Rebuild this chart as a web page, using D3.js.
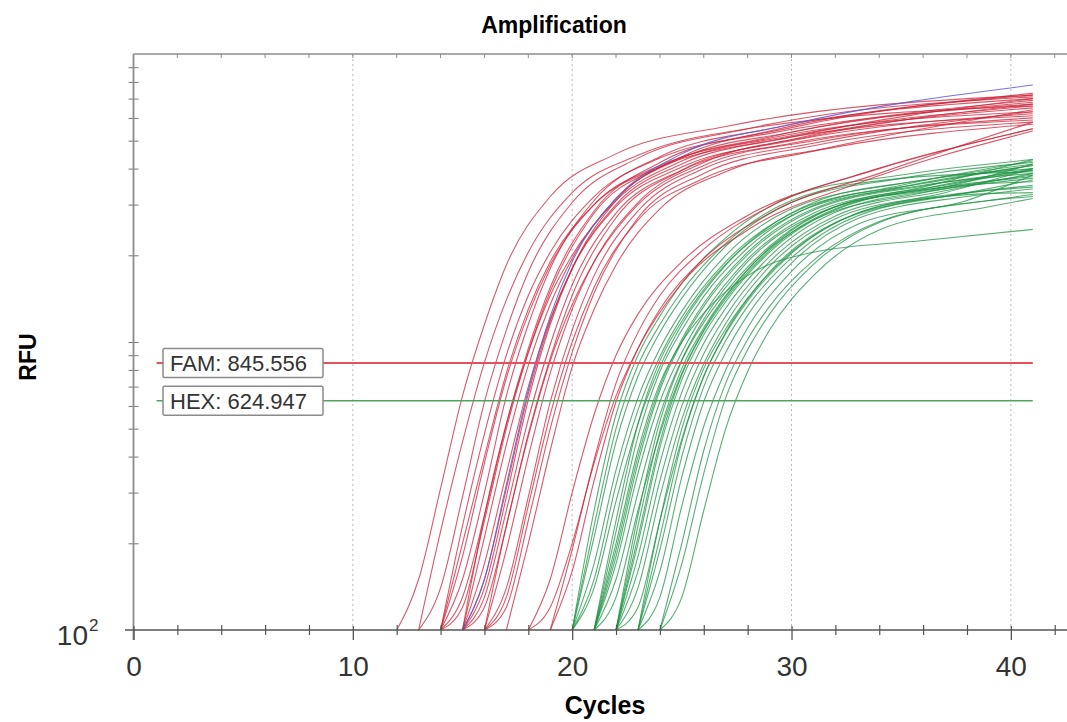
<!DOCTYPE html>
<html>
<head>
<meta charset="utf-8">
<script src="https://cdn.jsdelivr.net/npm/d3@7"></script>
<style>
  body { margin: 0; background: #fff; }
  text { font-family: "Liberation Sans", Arial, sans-serif; }
</style>
</head>
<body>
<div id="chart"></div>
<script>
// qPCR amplification plot, FAM (red) and HEX (green) wells, log RFU vs cycle

// cycle offsets from the start cycle at which each curve's RFU was read
var keyOffsets = [0, 1, 2, 3, 4, 5, 7, 10, 15];
var lastCycle = 41;

// FAM wells: start cycle, RFU at keyOffsets, RFU at cycle 41
var famStart = [12, 13, 13, 14, 14, 14, 14, 14, 14, 15, 15, 15, 15, 15, 15, 15, 16, 16, 16, 16, 17, 16, 18, 18, 19, 19];
var famRfu = [
  [100, 150, 310, 650, 1150, 1850, 3200, 4500, 5600],
  [100, 140, 290, 620, 1100, 1750, 3050, 4350, 5500],
  [100, 220, 450, 850, 1400, 2050, 3300, 4450, 5500],
  [100, 130, 250, 520, 950, 1550, 2850, 4200, 5400],
  [100, 150, 300, 650, 1150, 1800, 3100, 4400, 5500],
  [100, 230, 480, 900, 1450, 2050, 3200, 4350, 5300],
  [100, 180, 380, 750, 1250, 1850, 3000, 4100, 5100],
  [100, 120, 240, 500, 920, 1500, 2800, 4050, 5150],
  [100, 200, 400, 780, 1300, 1900, 3000, 4050, 5000],
  [100, 140, 290, 630, 1150, 1800, 3100, 4400, 5550],
  [100, 210, 440, 830, 1350, 1950, 3150, 4350, 5350],
  [100, 120, 230, 480, 880, 1450, 2700, 3950, 5050],
  [100, 170, 350, 700, 1200, 1800, 2950, 4050, 5000],
  [100, 250, 520, 920, 1450, 2000, 3100, 4250, 5200],
  [100, 150, 310, 660, 1180, 1800, 3000, 4150, 5150],
  [100, 130, 260, 540, 980, 1580, 2800, 3950, 4900],
  [100, 190, 400, 780, 1300, 1900, 3050, 4200, 5200],
  [100, 140, 290, 620, 1100, 1700, 2850, 4000, 4900],
  [100, 230, 470, 860, 1350, 1900, 3000, 4100, 5000],
  [100, 120, 240, 500, 920, 1480, 2700, 3850, 4800],
  [100, 200, 420, 820, 1300, 1850, 2900, 3900, 4750],
  [100, 130, 270, 560, 1000, 1550, 2650, 3700, 4600],
  [100, 150, 300, 560, 900, 1250, 1900, 2750, 3800],
  [100, 120, 200, 380, 650, 950, 1600, 2450, 3550],
  [100, 160, 330, 620, 950, 1300, 1950, 2800, 3850],
  [100, 190, 390, 720, 1080, 1450, 2100, 2950, 4000]
];
var famEnd = [7200, 7100, 6600, 7200, 7000, 6700, 6300, 6900, 6100, 7300, 6800, 6500, 6200, 6600, 7000, 5900, 6700, 6300, 6000, 5800, 5700, 6400, 5500, 5400, 5800, 5500];

// the single blue trace inside the FAM bundle
var blueStart = [15];
var blueRfu = [[100, 150, 320, 680, 1230, 1900, 3150, 4500, 5700]];
var blueEnd = [7800];

// HEX wells
var hexStart = [20, 20, 20, 20, 20, 20, 21, 21, 21, 21, 21, 21, 21, 21, 22, 22, 22, 22, 22, 22, 22, 22, 23, 23, 23, 23, 23, 24, 24, 24];
var hexRfu = [
  [100, 260, 560, 900, 1230, 1600, 2300, 3200, 3800],
  [100, 210, 450, 760, 1080, 1420, 2150, 3050, 3700],
  [100, 170, 360, 640, 950, 1280, 2000, 2900, 3550],
  [100, 140, 280, 520, 820, 1150, 1850, 2750, 3450],
  [100, 230, 500, 830, 1150, 1500, 2200, 3100, 3700],
  [100, 150, 320, 580, 890, 1220, 1900, 2800, 3500],
  [100, 240, 520, 860, 1180, 1520, 2200, 3050, 3650],
  [100, 190, 400, 700, 1020, 1360, 2050, 2900, 3500],
  [100, 150, 300, 560, 870, 1200, 1900, 2750, 3400],
  [100, 220, 470, 790, 1100, 1440, 2120, 2980, 3550],
  [100, 130, 260, 480, 780, 1100, 1780, 2650, 3300],
  [100, 200, 420, 720, 1000, 1260, 1700, 2050, 2250],
  [100, 170, 350, 620, 920, 1250, 1940, 2800, 3450],
  [100, 180, 380, 680, 1000, 1330, 2010, 2870, 3480],
  [100, 230, 490, 810, 1120, 1450, 2120, 2950, 3500],
  [100, 180, 380, 670, 990, 1310, 1980, 2820, 3400],
  [100, 140, 290, 540, 840, 1160, 1830, 2680, 3300],
  [100, 200, 430, 740, 1060, 1380, 2050, 2880, 3450],
  [100, 160, 330, 600, 910, 1230, 1900, 2740, 3350],
  [100, 250, 530, 860, 1170, 1490, 2150, 2950, 3450],
  [100, 120, 240, 460, 760, 1080, 1750, 2600, 3200],
  [100, 210, 450, 770, 1090, 1410, 2080, 2900, 3460],
  [100, 210, 450, 760, 1070, 1390, 2030, 2800, 3300],
  [100, 160, 340, 620, 920, 1240, 1880, 2680, 3200],
  [100, 130, 270, 510, 800, 1120, 1760, 2560, 3100],
  [100, 190, 400, 700, 1010, 1330, 1960, 2740, 3250],
  [100, 240, 500, 810, 1110, 1420, 2050, 2800, 3300],
  [100, 170, 350, 640, 940, 1250, 1860, 2600, 3100],
  [100, 130, 260, 500, 790, 1100, 1700, 2450, 2950],
  [100, 200, 420, 720, 1020, 1330, 1920, 2620, 3100]
];
var hexEnd = [4300, 4200, 4000, 4100, 3900, 4250, 4150, 3850, 4000, 4100, 3800, 2460, 4300, 3950, 3950, 3700, 4000, 3600, 3850, 4150, 3500, 3750, 3650, 3400, 3800, 3300, 3450, 3200, 3150, 3250];

var thresholdNames = ["FAM", "HEX"];
var thresholdValues = [845.556, 624.947];
var thresholdColors = ["#e4505c", "#4fa35f"];

var xMajorTicks = [0, 10, 20, 30, 40];
var xMinorTicks = [2, 4, 6, 8, 12, 14, 16, 18, 22, 24, 26, 28, 32, 34, 36, 38, 42];
var yMinorTicks = [200, 300, 400, 500, 600, 700, 800, 900, 1000, 2000, 3000, 4000, 5000, 6000, 7000, 8000, 9000];

var W = 1067, H = 722;

var svg = d3.select("#chart").append("svg")
    .attr("width", W)
    .attr("height", H);

var x = d3.scaleLinear().domain([0, 42.56]).range([133.5, 1067]);
var y = d3.scaleLog().domain([100, 10000]).range([630, 54]).clamp(true);

// build the curve points from start cycle + offsets
function curvePoints(start, rfu, end) {
  var pts = keyOffsets.map(function(o, i) { return [start + o, rfu[i]]; });
  pts.push([lastCycle, end]);
  return pts;
}

var line = d3.line()
    .x(function(d) { return x(d[0]); })
    .y(function(d) { return y(d[1]); })
    .curve(d3.curveMonotoneX);

// dotted grid at major cycles
svg.append("g")
  .selectAll("line")
  .data(xMajorTicks.filter(function(d) { return d > 0; }))
  .enter().append("line")
    .attr("x1", function(d) { return x(d); })
    .attr("x2", function(d) { return x(d); })
    .attr("y1", 54)
    .attr("y2", 630)
    .style("stroke", "#b8b8b8")
    .style("stroke-width", 1)
    .style("stroke-dasharray", "2,3");

// top border with small ticks
svg.append("line")
  .attr("x1", x(0)).attr("x2", W)
  .attr("y1", 54).attr("y2", 54)
  .style("stroke", "#8c8c8c").style("stroke-width", 1.5);

svg.append("g")
  .selectAll("line")
  .data(xMinorTicks.concat(xMajorTicks))
  .enter().append("line")
    .attr("x1", function(d) { return x(d); })
    .attr("x2", function(d) { return x(d); })
    .attr("y1", 54).attr("y2", 58)
    .style("stroke", "#8c8c8c").style("stroke-width", 1);

// curves
var curves = svg.append("g");

curves.selectAll(".hex")
  .data(hexStart.map(function(s, i) { return curvePoints(s, hexRfu[i], hexEnd[i]); }))
  .enter().append("path")
    .attr("class", "hex")
    .attr("d", line)
    .style("fill", "none")
    .style("stroke", "#1f9444")
    .style("stroke-opacity", 0.75)
    .style("stroke-width", 1.1);

curves.selectAll(".fam")
  .data(famStart.map(function(s, i) { return curvePoints(s, famRfu[i], famEnd[i]); }))
  .enter().append("path")
    .attr("class", "fam")
    .attr("d", line)
    .style("fill", "none")
    .style("stroke", "#cc2236")
    .style("stroke-opacity", 0.75)
    .style("stroke-width", 1.1);

curves.selectAll(".blue")
  .data(blueStart.map(function(s, i) { return curvePoints(s, blueRfu[i], blueEnd[i]); }))
  .enter().append("path")
    .attr("class", "blue")
    .attr("d", line)
    .style("fill", "none")
    .style("stroke", "#5a5ad8")
    .style("stroke-opacity", 0.85)
    .style("stroke-width", 1.1);

// threshold lines with labels
var thr = svg.append("g")
  .selectAll("g")
  .data(thresholdValues)
  .enter().append("g");

thr.append("line")
  .attr("x1", x(1.05))
  .attr("x2", x(lastCycle))
  .attr("y1", function(d) { return y(d); })
  .attr("y2", function(d) { return y(d); })
  .style("stroke", function(d, i) { return thresholdColors[i]; })
  .style("stroke-width", function(d, i) { return i === 0 ? 2.2 : 1.6; });

thr.append("rect")
  .attr("x", 163)
  .attr("y", function(d) { return y(d) - 14.5; })
  .attr("width", 160)
  .attr("height", 29)
  .attr("rx", 1.5)
  .style("fill", "#fff")
  .style("stroke", "#8a8a8a")
  .style("stroke-width", 1.5);

thr.append("text")
  .attr("x", 170)
  .attr("y", function(d) { return y(d) + 8; })
  .style("font-size", "22px")
  .style("fill", "#333")
  .text(function(d, i) { return thresholdNames[i] + ": " + d3.format(".3f")(d); });

// left axis
var yAxis = svg.append("g")
  .attr("transform", "translate(" + x(0) + ",0)")
  .call(d3.axisLeft(y).tickValues(yMinorTicks).tickFormat("").tickSize(5));
yAxis.select(".domain").remove();
yAxis.selectAll(".tick line")
  .attr("x1", -5).attr("x2", 5)
  .style("stroke", "#777");

svg.append("line")
  .attr("x1", x(0)).attr("x2", x(0))
  .attr("y1", 54).attr("y2", 640)
  .style("stroke", "#8c8c8c").style("stroke-width", 1.8);

// bottom axis
svg.append("line")
  .attr("x1", 125).attr("x2", W)
  .attr("y1", 630).attr("y2", 630)
  .style("stroke", "#555").style("stroke-width", 1.6);

var xAxis = svg.append("g")
  .attr("transform", "translate(0,630)")
  .call(d3.axisBottom(x).tickValues(xMajorTicks).tickFormat(d3.format("d")).tickSize(10).tickPadding(16));
xAxis.select(".domain").remove();
xAxis.selectAll(".tick line").attr("y1", -4).style("stroke", "#555").style("stroke-width", 1.3);
xAxis.selectAll(".tick text")
  .style("font-size", "28px")
  .style("font-family", "Liberation Sans, Arial, sans-serif")
  .style("fill", "#333");

var xMinor = svg.append("g")
  .attr("transform", "translate(0,630)")
  .call(d3.axisBottom(x).tickValues(xMinorTicks).tickFormat("").tickSize(5));
xMinor.select(".domain").remove();
xMinor.selectAll(".tick line").attr("y1", -5).style("stroke", "#555").style("stroke-width", 1.2);

// 10^2 label at the bottom of the log axis
svg.append("text")
  .attr("x", 88)
  .attr("y", 645)
  .attr("text-anchor", "end")
  .style("font-size", "28px")
  .style("fill", "#333")
  .text("10");
svg.append("text")
  .attr("x", 89)
  .attr("y", 631)
  .style("font-size", "17px")
  .style("fill", "#333")
  .text("2");

// title and axis titles
svg.append("text")
  .attr("x", 554)
  .attr("y", 33)
  .attr("text-anchor", "middle")
  .style("font-size", "23px")
  .style("font-weight", "bold")
  .text("Amplification");

svg.append("text")
  .attr("transform", "translate(36,357) rotate(-90)")
  .attr("text-anchor", "middle")
  .style("font-size", "23px")
  .style("font-weight", "bold")
  .text("RFU");

svg.append("text")
  .attr("x", 605)
  .attr("y", 714)
  .attr("text-anchor", "middle")
  .style("font-size", "25px")
  .style("font-weight", "bold")
  .text("Cycles");
</script>
</body>
</html>
